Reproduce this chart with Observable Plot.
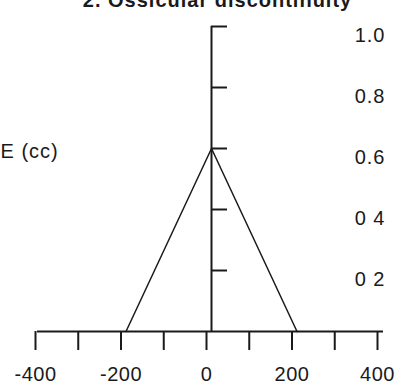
<!DOCTYPE html>
<html><head><meta charset="utf-8">
<script src="https://cdn.jsdelivr.net/npm/d3@7"></script>
<script src="https://cdn.jsdelivr.net/npm/@observablehq/plot@0.6"></script>
<style>
body{margin:0;background:#fff;}
#chart{width:395px;height:386px;overflow:hidden;}
#chart svg{font-family:"Liberation Sans",Arial,sans-serif;}
#chart svg text{letter-spacing:1px;}
#chart g[aria-label="x-axis tick label"] text{letter-spacing:0.5px;}
#chart g[aria-label="title"] text{letter-spacing:2px;}
</style></head><body><div id="chart"></div>
<script>
const title = "2. Ossicular discontinuity";
const yLabel = "E (cc)";
const xValues = [-200, 0, 200];
const yValues = [0, 0.6, 0];
const xTicks = [-400, -300, -200, -100, 0, 100, 200, 300, 400];
const xTickLabels = ["-400", "", "-200", "", "0", "", "200", "", "400"];
const yTicks = [0.2, 0.4, 0.6, 0.8, 1.0];
const yTickLabels = ["0 2", "0 4", "0.6", "0.8", "1.0"];

const xLabelMap = new Map(xTicks.map((d, i) => [d, xTickLabels[i]]));
const yLabelMap = new Map(yTicks.map((d, i) => [d, yTickLabels[i]]));
const pts = xValues.map((x, i) => ({x, y: yValues[i]}));
const ink = "#1a1a1a";

const chart = Plot.plot({
  width: 395,
  height: 386,
  marginTop: 26,
  marginBottom: 55,
  marginLeft: 37,
  marginRight: 12,
  x: {domain: [-400, 400], range: [40, 382], axis: null},
  y: {domain: [0, 1], axis: null},
  marks: [
    Plot.ruleY([0], {stroke: ink, strokeWidth: 2}),
    Plot.axisX(xTicks, {anchor: "bottom", tickSize: 19, tickPadding: 16, strokeWidth: 2, stroke: ink, fill: ink,
      tickFormat: d => xLabelMap.get(d), fontSize: 20, label: null, dx: -5}),
    Plot.ruleX([0], {stroke: ink, strokeWidth: 2}),
    Plot.ruleY(yTicks, {x1: 0, x2: 0, insetRight: -16, stroke: ink, strokeWidth: 2}),
    Plot.text(yTicks, {y: d => d, text: d => yLabelMap.get(d), frameAnchor: "right", textAnchor: "end", dx: 2, dy: 9, fontSize: 20, fill: ink}),
    Plot.line(pts, {x: "x", y: "y", stroke: ink, strokeWidth: 1.5}),
    Plot.text([yLabel], {frameAnchor: "top-left", dx: -37, dy: 117, textAnchor: "start", fontSize: 20, fill: ink}),
    Plot.text([title], {frameAnchor: "top", dx: 7, dy: -20, lineAnchor: "bottom", fontSize: 20, fontWeight: "bold", fill: ink, ariaLabel: "title"})
  ]
});
document.getElementById("chart").appendChild(chart);
</script></body></html>
